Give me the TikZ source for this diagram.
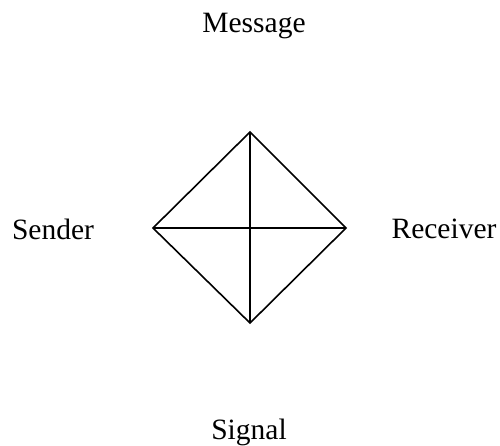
\documentclass[tikz,border=0pt]{standalone}
\usepackage{fontspec}
\setmainfont{Liberation Serif}
\usetikzlibrary{positioning}

\begin{document}
\begin{tikzpicture}[x=1pt, y=-1pt, line width=1.6pt,
    label/.style={font=\fontsize{29.5}{34}\selectfont, inner sep=0pt}]
  % bounding box of the whole figure
  \useasboundingbox (0,0) rectangle (500,445);

  % corners of the square
  \coordinate (top) at (250,132);
  \coordinate (bottom) at (250,323);
  \coordinate (left) at (153,228);
  \coordinate (right) at (346,228);

  % square and its diagonals
  \draw[line join=miter] (top) -- (right) -- (bottom) -- (left) -- cycle;
  \draw (top) -- (bottom);
  \draw (left) -- (right);

  % labels
  \node[label] (message) at (254,26) {Message};
  \node[label] (sender) at (53,229) {Sender};
  \node[label] (receiver) at (444,229) {Receiver};
  \node[label] (signal) at (249,432) {Signal};
\end{tikzpicture}
\end{document}
